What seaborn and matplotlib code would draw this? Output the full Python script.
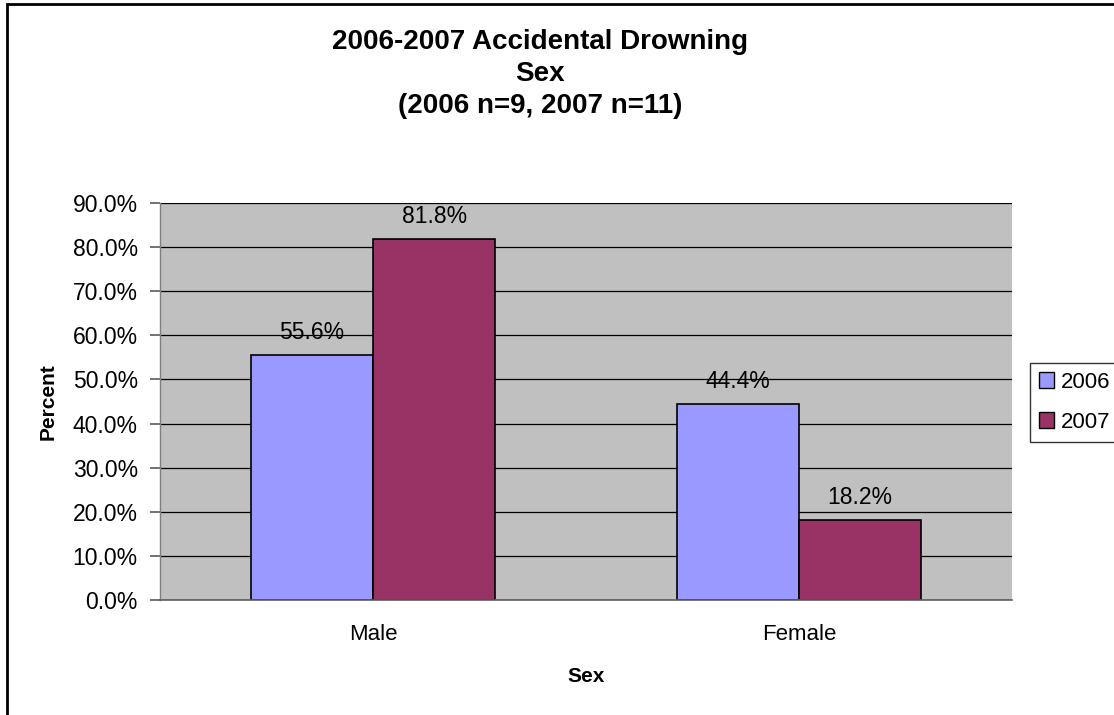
import matplotlib
matplotlib.use("Agg")
import matplotlib.pyplot as plt
import seaborn as sns
import pandas as pd
from matplotlib.patches import Rectangle
from matplotlib.ticker import FuncFormatter, MultipleLocator

categories = ["Male", "Female"]
years = ["2006", "2007"]
values_2006 = [55.6, 44.4]
values_2007 = [81.8, 18.2]

df = pd.DataFrame({
    "Sex": categories * 2,
    "Year": [years[0]] * 2 + [years[1]] * 2,
    "Percent": values_2006 + values_2007,
})

sns.set_theme(style="white")
plt.rcParams['font.family'] = ['Liberation Sans', 'DejaVu Sans']
plt.rcParams['text.color'] = 'black'
plt.rcParams['axes.labelcolor'] = 'black'
plt.rcParams['xtick.color'] = 'black'
plt.rcParams['ytick.color'] = 'black'

fig = plt.figure(figsize=(11.14, 7.15), dpi=100)
ax = fig.add_axes([160/1114, 1-600/715, 852/1114, 397/715])

palette = {"2006": "#9999FF", "2007": "#993366"}
sns.barplot(data=df, x="Sex", y="Percent", hue="Year", palette=palette,
            width=0.575, edgecolor="black", linewidth=1.2, ax=ax, saturation=1,
            legend=False)

ax.set_facecolor("#C0C0C0")
ax.set_ylim(0, 90)
ax.set_xlim(-0.5, 1.5)
ax.yaxis.set_major_locator(MultipleLocator(10))
ax.yaxis.set_major_formatter(FuncFormatter(lambda v, p: f"{v:.1f}%"))
ax.grid(axis="y", color="black", linewidth=0.9)
ax.set_axisbelow(True)
for s in ["top", "right"]:
    ax.spines[s].set_visible(False)
ax.spines["left"].set_color("#808080")
ax.spines["bottom"].set_color("#606060")
ax.spines["left"].set_linewidth(1)
ax.spines["bottom"].set_linewidth(1.2)

ax.set_xticks([0, 1])
ax.set_xticklabels(categories)
ax.set_xticks([-0.5, 0.5, 1.5], minor=True)
ax.tick_params(axis="x", which="major", length=0, labelsize=16, pad=17)
ax.tick_params(axis="x", which="minor", length=7, color="#606060", direction="out")
ax.tick_params(axis="y", length=7, color="#606060", direction="out", labelsize=16.5,
               left=True, labelcolor="black", pad=9)
ax.tick_params(axis="x", labelcolor="black")

ax.set_xlabel("Sex", fontsize=15, fontweight="bold", labelpad=16)
ax.set_ylabel("Percent", fontsize=15, fontweight="bold", labelpad=11)

for cont in ax.containers:
    ax.bar_label(cont, labels=[f"{b.get_height():.1f}%" for b in cont],
                 padding=8, fontsize=16.5, color="black")

fig.text(540/1114, 1-74/715, "2006-2007 Accidental Drowning\nSex\n(2006 n=9, 2007 n=11)",
         ha="center", va="center", fontsize=20, fontweight="bold", linespacing=1.3,
         color="black")

handles = [Rectangle((0, 0), 1, 1, facecolor=palette[y], edgecolor="black") for y in years]
leg = fig.legend(handles, years, loc="upper left", bbox_to_anchor=(1030/1114, 1-363/715),
                 frameon=True, fontsize=16, handlelength=0.7, handleheight=0.7,
                 handletextpad=0.3, borderpad=0.4, borderaxespad=0, labelspacing=0.85,
                 fancybox=False)
leg.get_frame().set_edgecolor("black")
leg.get_frame().set_linewidth(1)
for t in leg.get_texts():
    t.set_color("black")

fig.patches.append(Rectangle((7/1114, -0.05), 1.2, 1.05-4/715, transform=fig.transFigure,
                             fill=False, edgecolor="black", linewidth=2))

fig.savefig("out.png", dpi=100)
